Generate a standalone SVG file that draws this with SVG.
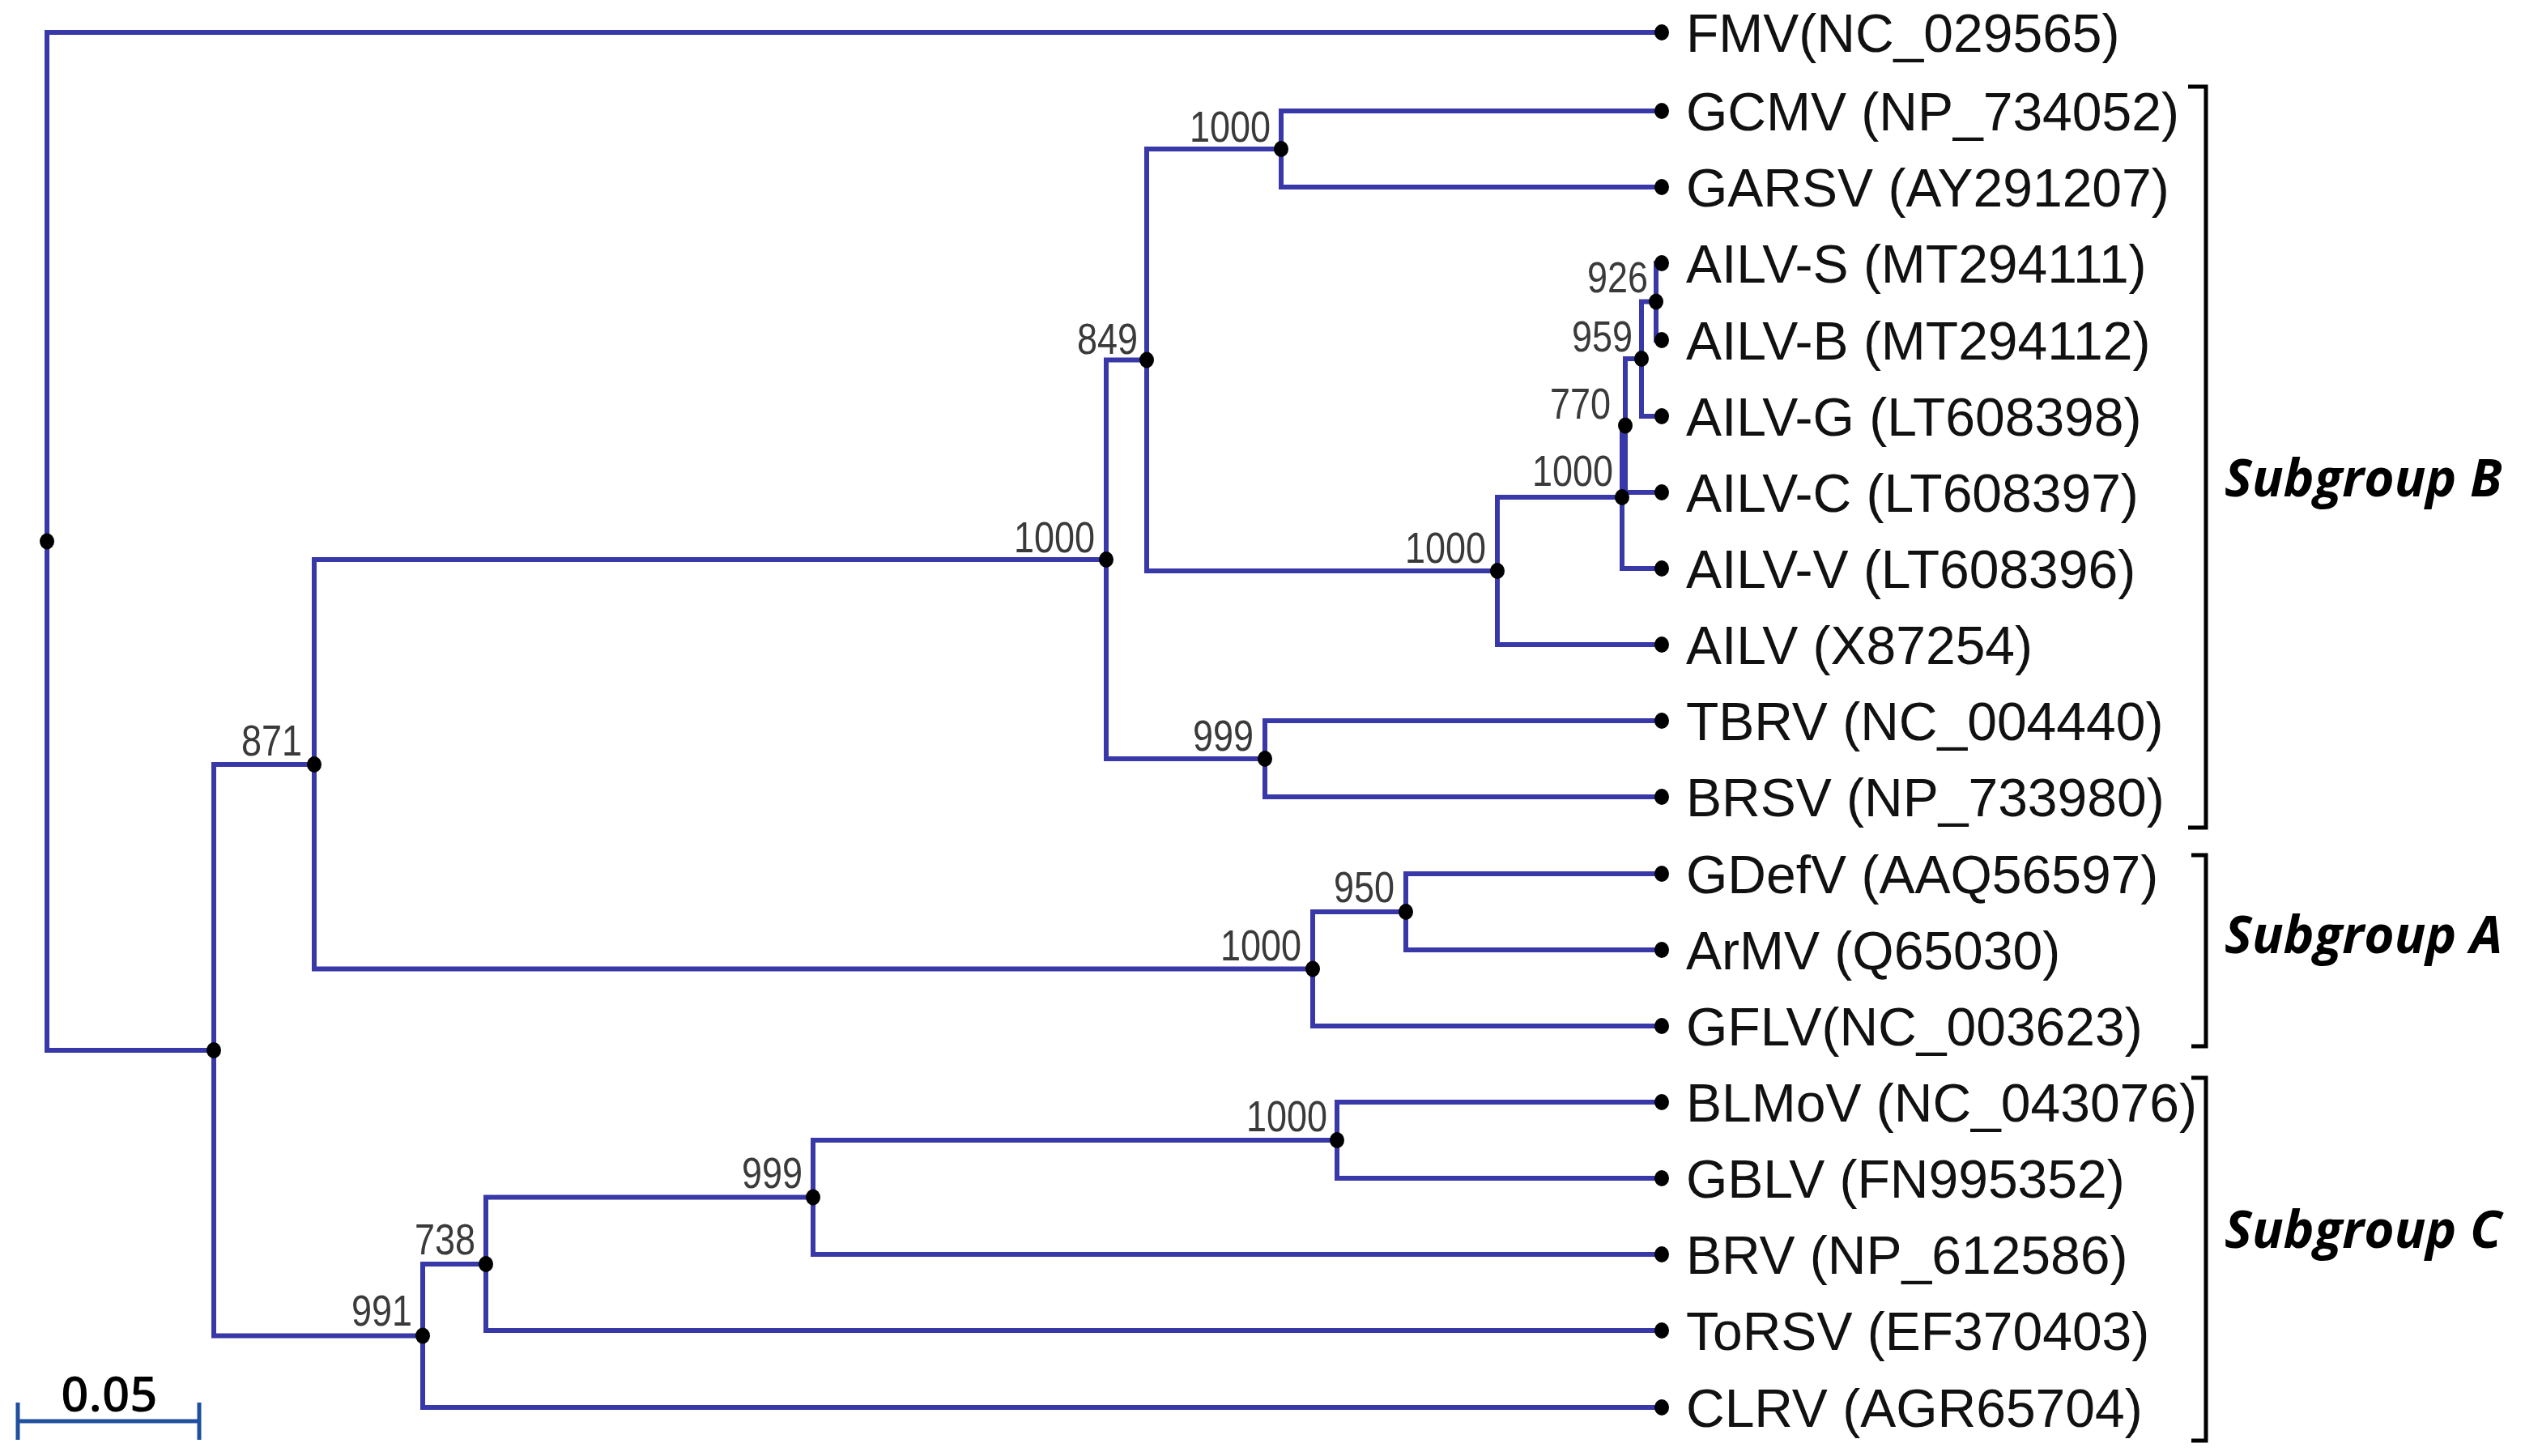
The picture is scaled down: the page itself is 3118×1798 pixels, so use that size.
<svg xmlns="http://www.w3.org/2000/svg" width="3118" height="1798" viewBox="0 0 3118 1798">
<style>
.br{fill:none;stroke:#3838a8;stroke-width:6;stroke-linejoin:miter;stroke-linecap:butt}
.dot{fill:#000}
.leaf{font-family:"Liberation Sans",Arimo,Arial,sans-serif;font-size:66px;fill:#111}
.bs{font-family:"Liberation Sans",Arimo,Arial,sans-serif;font-size:45px;fill:#3a3a3a;text-anchor:end}
.grp{font-family:"Open Sans",sans-serif;font-size:64px;font-weight:700;font-style:italic;fill:#000}
.bracket{fill:none;stroke:#000;stroke-width:5}
.scale{fill:none;stroke:#1f4f9f;stroke-width:5}
.sl{font-family:"Open Sans",sans-serif;font-size:60px;font-weight:600;fill:#000;text-anchor:middle}
</style>
<rect width="3118" height="1798" fill="#fff"/>
<g id="connectors">
<path class="br" d="M2052 40H58V1297H264"/>
<path class="br" d="M388 944H264V1649.5H522"/>
<path class="br" d="M1366 691H388V1196.5H1621"/>
<path class="br" d="M1416 444.5H1366V937H1562"/>
<path class="br" d="M1582 184H1416V705H1849"/>
<path class="br" d="M2052 137H1582V231H2052"/>
<path class="br" d="M2003 614H1849V796H2052"/>
<path class="br" d="M2007 525.5H2003V702H2052"/>
<path class="br" d="M2027 443H2007V608H2052"/>
<path class="br" d="M2045 372.5H2027V514H2052"/>
<path class="br" d="M2052 325H2045V420H2052"/>
<path class="br" d="M2052 890H1562V984H2052"/>
<path class="br" d="M1736 1126H1621V1267H2052"/>
<path class="br" d="M2052 1079H1736V1173H2052"/>
<path class="br" d="M600 1561H522V1738H2052"/>
<path class="br" d="M1004 1478.5H600V1643H2052"/>
<path class="br" d="M1651 1408H1004V1549H2052"/>
<path class="br" d="M2052 1361H1651V1455H2052"/>
</g>
<g id="internal-nodes">
<g id="n-root"><ellipse class="dot" cx="58" cy="668.5" rx="9" ry="10"/></g>
<g id="n-A"><ellipse class="dot" cx="264" cy="1297" rx="9" ry="10"/></g>
<g id="n-871"><ellipse class="dot" cx="388" cy="944" rx="9" ry="10"/><text class="bs" transform="translate(373,933) scale(1,1.18)">871</text></g>
<g id="n-1000B"><ellipse class="dot" cx="1366" cy="691" rx="9" ry="10"/><text class="bs" transform="translate(1352,682) scale(1,1.18)">1000</text></g>
<g id="n-849"><ellipse class="dot" cx="1416" cy="444.5" rx="9" ry="10"/><text class="bs" transform="translate(1405,437) scale(1,1.18)">849</text></g>
<g id="n-1000G"><ellipse class="dot" cx="1582" cy="184" rx="9" ry="10"/><text class="bs" transform="translate(1569,175) scale(1,1.18)">1000</text></g>
<g id="n-1000AILV"><ellipse class="dot" cx="1849" cy="705" rx="9" ry="10"/><text class="bs" transform="translate(1835,695) scale(1,1.18)">1000</text></g>
<g id="n-1000i"><ellipse class="dot" cx="2003" cy="614" rx="9" ry="10"/><text class="bs" transform="translate(1992,600) scale(1,1.18)">1000</text></g>
<g id="n-770"><ellipse class="dot" cx="2007" cy="525.5" rx="9" ry="10"/><text class="bs" transform="translate(1989,517) scale(1,1.18)">770</text></g>
<g id="n-959"><ellipse class="dot" cx="2027" cy="443" rx="9" ry="10"/><text class="bs" transform="translate(2016,434) scale(1,1.18)">959</text></g>
<g id="n-926"><ellipse class="dot" cx="2045" cy="372.5" rx="9" ry="10"/><text class="bs" transform="translate(2035,361) scale(1,1.18)">926</text></g>
<g id="n-999T"><ellipse class="dot" cx="1562" cy="937" rx="9" ry="10"/><text class="bs" transform="translate(1548,927) scale(1,1.18)">999</text></g>
<g id="n-1000A"><ellipse class="dot" cx="1621" cy="1196.5" rx="9" ry="10"/><text class="bs" transform="translate(1607,1186) scale(1,1.18)">1000</text></g>
<g id="n-950"><ellipse class="dot" cx="1736" cy="1126" rx="9" ry="10"/><text class="bs" transform="translate(1722,1114) scale(1,1.18)">950</text></g>
<g id="n-991"><ellipse class="dot" cx="522" cy="1649.5" rx="9" ry="10"/><text class="bs" transform="translate(509,1637) scale(1,1.18)">991</text></g>
<g id="n-738"><ellipse class="dot" cx="600" cy="1561" rx="9" ry="10"/><text class="bs" transform="translate(587,1549) scale(1,1.18)">738</text></g>
<g id="n-999b"><ellipse class="dot" cx="1004" cy="1478.5" rx="9" ry="10"/><text class="bs" transform="translate(991,1467) scale(1,1.18)">999</text></g>
<g id="n-1000BL"><ellipse class="dot" cx="1651" cy="1408" rx="9" ry="10"/><text class="bs" transform="translate(1639,1397) scale(1,1.18)">1000</text></g>
</g>
<g id="leaves">
<g id="leaf-FMV"><ellipse class="dot" cx="2052" cy="40" rx="9" ry="10"/><text class="leaf" x="2082" y="64">FMV(NC_029565)</text></g>
<g id="leaf-GCMV"><ellipse class="dot" cx="2052" cy="137" rx="9" ry="10"/><text class="leaf" x="2082" y="161">GCMV (NP_734052)</text></g>
<g id="leaf-GARSV"><ellipse class="dot" cx="2052" cy="231" rx="9" ry="10"/><text class="leaf" x="2082" y="255">GARSV (AY291207)</text></g>
<g id="leaf-AILV-S"><ellipse class="dot" cx="2052" cy="325" rx="9" ry="10"/><text class="leaf" x="2082" y="349">AILV-S (MT294111)</text></g>
<g id="leaf-AILV-B"><ellipse class="dot" cx="2052" cy="420" rx="9" ry="10"/><text class="leaf" x="2082" y="444">AILV-B (MT294112)</text></g>
<g id="leaf-AILV-G"><ellipse class="dot" cx="2052" cy="514" rx="9" ry="10"/><text class="leaf" x="2082" y="538">AILV-G (LT608398)</text></g>
<g id="leaf-AILV-C"><ellipse class="dot" cx="2052" cy="608" rx="9" ry="10"/><text class="leaf" x="2082" y="632">AILV-C (LT608397)</text></g>
<g id="leaf-AILV-V"><ellipse class="dot" cx="2052" cy="702" rx="9" ry="10"/><text class="leaf" x="2082" y="726">AILV-V (LT608396)</text></g>
<g id="leaf-AILV"><ellipse class="dot" cx="2052" cy="796" rx="9" ry="10"/><text class="leaf" x="2082" y="820">AILV (X87254)</text></g>
<g id="leaf-TBRV"><ellipse class="dot" cx="2052" cy="890" rx="9" ry="10"/><text class="leaf" x="2082" y="914">TBRV (NC_004440)</text></g>
<g id="leaf-BRSV"><ellipse class="dot" cx="2052" cy="984" rx="9" ry="10"/><text class="leaf" x="2082" y="1008">BRSV (NP_733980)</text></g>
<g id="leaf-GDefV"><ellipse class="dot" cx="2052" cy="1079" rx="9" ry="10"/><text class="leaf" x="2082" y="1103">GDefV (AAQ56597)</text></g>
<g id="leaf-ArMV"><ellipse class="dot" cx="2052" cy="1173" rx="9" ry="10"/><text class="leaf" x="2082" y="1197">ArMV (Q65030)</text></g>
<g id="leaf-GFLV"><ellipse class="dot" cx="2052" cy="1267" rx="9" ry="10"/><text class="leaf" x="2082" y="1291">GFLV(NC_003623)</text></g>
<g id="leaf-BLMoV"><ellipse class="dot" cx="2052" cy="1361" rx="9" ry="10"/><text class="leaf" x="2082" y="1385">BLMoV (NC_043076)</text></g>
<g id="leaf-GBLV"><ellipse class="dot" cx="2052" cy="1455" rx="9" ry="10"/><text class="leaf" x="2082" y="1479">GBLV (FN995352)</text></g>
<g id="leaf-BRV"><ellipse class="dot" cx="2052" cy="1549" rx="9" ry="10"/><text class="leaf" x="2082" y="1573">BRV (NP_612586)</text></g>
<g id="leaf-ToRSV"><ellipse class="dot" cx="2052" cy="1643" rx="9" ry="10"/><text class="leaf" x="2082" y="1667">ToRSV (EF370403)</text></g>
<g id="leaf-CLRV"><ellipse class="dot" cx="2052" cy="1738" rx="9" ry="10"/><text class="leaf" x="2082" y="1762">CLRV (AGR65704)</text></g>
</g>
<g id="subgroups">
<g id="subgroup-B"><path class="bracket" d="M2702 107H2724V1022H2702"/><text class="grp" x="2747" y="613">Subgroup B</text></g>
<g id="subgroup-A"><path class="bracket" d="M2706 1056H2724V1292H2706"/><text class="grp" x="2747" y="1177">Subgroup A</text></g>
<g id="subgroup-C"><path class="bracket" d="M2706 1331H2724V1779H2706"/><text class="grp" x="2747" y="1541">Subgroup C</text></g>
</g>
<g id="scale-bar">
<path class="scale" d="M22 1732V1778M22 1755H246M246 1732V1778"/>
<text class="sl" x="135" y="1743">0.05</text>
</g>
</svg>
